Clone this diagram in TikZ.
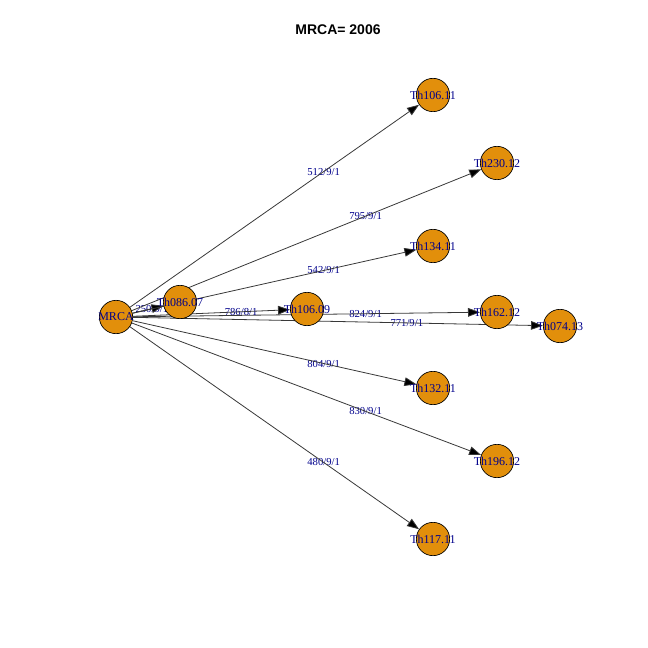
\documentclass[tikz,border=0pt]{standalone}
\usepackage{fontspec}
\setmainfont{Liberation Serif}
\newfontfamily\titlefont{Liberation Sans}
\usetikzlibrary{arrows.meta,calc,backgrounds}
\definecolor{vfill}{HTML}{E28F0B}
\definecolor{lblc}{HTML}{00008B}
\definecolor{edgec}{HTML}{383838}
\tikzset{
  vtx/.style={circle,draw=black,line width=0.5pt,fill=vfill,minimum size=25pt,inner sep=0pt},
  vlab/.style={font=\fontsize{9}{9}\selectfont,text=lblc,inner sep=0pt},
  edg/.style={draw=edgec,line width=0.6pt,-{Triangle[length=9pt,width=6.5pt,fill=black]}},
  elab/.style={font=\fontsize{8}{8}\selectfont,text=lblc,inner sep=0pt}
}
\begin{document}
\begin{tikzpicture}[x=0.75pt,y=-0.75pt]
\useasboundingbox (0,0) rectangle (648,648);
\node[font=\titlefont\bfseries\fontsize{10.5}{10.5}\selectfont] (title) at (338,30) {MRCA= 2006};
\node[vtx,label={[vlab]center:MRCA}] (m) at (116,317) {};
\node[vtx,label={[vlab]center:Th086.07}] (a) at (180,302) {};
\node[vtx,label={[vlab]center:Th106.09}] (b) at (307,309) {};
\node[vtx,label={[vlab]center:Th106.11}] (c) at (433,95) {};
\node[vtx,label={[vlab]center:Th230.12}] (d) at (497,163) {};
\node[vtx,label={[vlab]center:Th134.11}] (e) at (433,246) {};
\node[vtx,label={[vlab]center:Th162.12}] (f) at (497,312) {};
\node[vtx,label={[vlab]center:Th074.13}] (g) at (560,326) {};
\node[vtx,label={[vlab]center:Th132.11}] (h) at (433,388) {};
\node[vtx,label={[vlab]center:Th196.12}] (i) at (497,461) {};
\node[vtx,label={[vlab]center:Th117.11}] (j) at (433,539) {};
\begin{scope}[on background layer]
\foreach \t/\f/\l in {a/0.56/{250/9/1},b/0.655/{786/8/1},c/0.655/{512/9/1},d/0.655/{795/9/1},e/0.655/{542/9/1},f/0.655/{824/9/1},g/0.655/{771/9/1},h/0.655/{804/9/1},i/0.655/{830/9/1},j/0.655/{480/9/1}}{
  \node[elab] (lab\t) at ($(m)!\f!(\t)$) {\l};
  \draw[edg] (m) -- (\t);
}
\end{scope}
\end{tikzpicture}
\end{document}
